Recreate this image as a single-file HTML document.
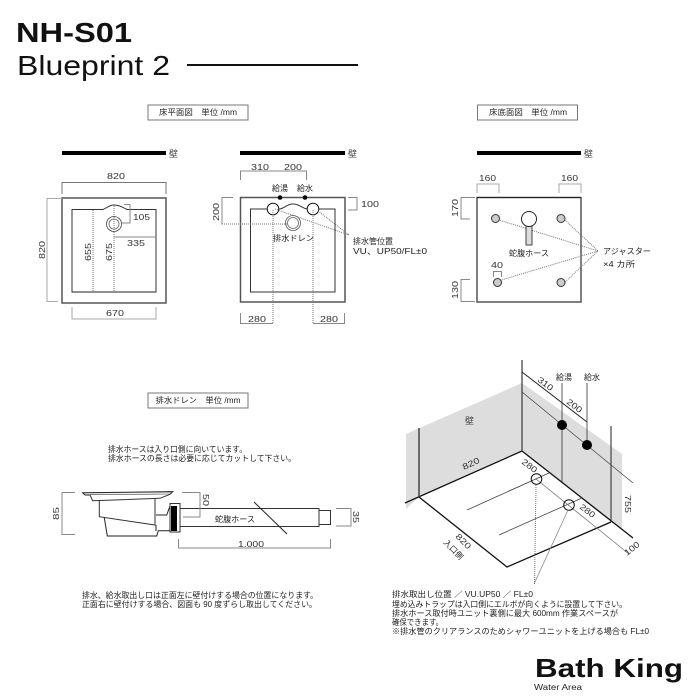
<!DOCTYPE html>
<html><head><meta charset="utf-8"><style>
html,body{margin:0;padding:0;background:#fff;width:700px;height:700px;overflow:hidden}
svg{display:block}
text{font-family:"Liberation Sans","Noto Sans CJK JP",sans-serif;font-size:8px;fill:#222}
.d{font-size:8.5px;fill:#333}
.w{font-size:9px;fill:#444}
.k{fill:none;stroke:#222;stroke-width:1}
.g{fill:none;stroke:#888;stroke-width:1}
.l{fill:none;stroke:#aaa;stroke-width:1}
.o{fill:#fff;stroke:#555;stroke-width:1.5}
.t{fill:none;stroke:#777;stroke-width:1;stroke-dasharray:1 1}
</style></head><body>
<svg width="700" height="700" viewBox="0 0 700 700" xmlns="http://www.w3.org/2000/svg">
<text x="16" y="42" textLength="116" lengthAdjust="spacingAndGlyphs" style="font-size:28px;font-weight:bold;fill:#111">NH-S01</text>
<text x="17" y="75" textLength="153" lengthAdjust="spacingAndGlyphs" style="font-size:28px;fill:#111">Blueprint 2</text>
<rect x="187" y="64" width="171" height="2" fill="#111"/>

<!-- label boxes -->
<rect x="148" y="105" width="100" height="15" fill="#fff" stroke="#777" stroke-width="1"/>
<text x="159" y="115" textLength="78" lengthAdjust="spacingAndGlyphs">床平面図　単位 /mm</text>
<rect x="477.500" y="105" width="100" height="15" fill="#fff" stroke="#777" stroke-width="1"/>
<text x="489" y="115" textLength="78" lengthAdjust="spacingAndGlyphs">床底面図　単位 /mm</text>
<rect x="148" y="393" width="100" height="15" fill="#fff" stroke="#777" stroke-width="1"/>
<text x="155.500" y="403" textLength="85" lengthAdjust="spacingAndGlyphs">排水ドレン　単位 /mm</text>

<!-- walls -->
<rect x="62" y="151" width="104" height="4" fill="#000"/><text class="w" x="169" y="157">壁</text>
<rect x="240" y="151" width="105" height="4" fill="#000"/><text class="w" x="348" y="157">壁</text>
<rect x="477" y="151" width="104" height="4" fill="#000"/><text class="w" x="584" y="157">壁</text>

<!-- Panel 1 -->
<rect x="62" y="198" width="104" height="105" class="o"/>
<path d="M72 292V209.500H103C107 208 109 205 114 205C120 205 124 208 127 209.500H156V292Z" fill="#fff" stroke="#333" stroke-width="1"/>
<path d="M72 292H156" class="k"/>
<path d="M93 210V292M114 206V292" class="t" stroke-width="1"/>
<circle cx="114" cy="224" r="7.500" fill="#fff" stroke="#444" stroke-width=".8"/>
<circle cx="114" cy="224" r="5" fill="#fff" stroke="#666" stroke-width=".8"/>
<path d="M114 217V231" class="t"/>
<path d="M62 194V182.500H166V194" class="k" style="stroke:#777"/>
<path d="M62 198.500H47V301.500H58" class="l"/>
<path d="M124 204.500H130V223H122" class="g"/>
<path d="M114 237H156" class="g"/>
<path d="M72 307V319H156V307" class="l"/>
<text class="d" x="107" y="179" textLength="18" lengthAdjust="spacingAndGlyphs">820</text>
<text class="d" x="133" y="220" textLength="17" lengthAdjust="spacingAndGlyphs">105</text>
<text class="d" x="127" y="246" textLength="18" lengthAdjust="spacingAndGlyphs">335</text>
<text class="d" x="106" y="316" textLength="18" lengthAdjust="spacingAndGlyphs">670</text>
<text class="d" transform="translate(45,259) rotate(-90)" textLength="18" lengthAdjust="spacingAndGlyphs">820</text>
<text class="d" transform="translate(91,261) rotate(-90)" textLength="18" lengthAdjust="spacingAndGlyphs">655</text>
<text class="d" transform="translate(112,261) rotate(-90)" textLength="18" lengthAdjust="spacingAndGlyphs">675</text>

<!-- Panel 2 -->
<rect x="240.500" y="197.500" width="104.500" height="104.500" class="o"/>
<path d="M250.500 292V209H280C285 208 287 204 293 204C299 204 302 208 307 209H335V292Z" fill="#fff" stroke="#333" stroke-width="1"/>
<circle cx="273" cy="209" r="5.800" fill="#fff" stroke="#111" stroke-width="1"/>
<circle cx="313" cy="209" r="5.800" fill="#fff" stroke="#111" stroke-width="1"/>
<circle cx="293" cy="223" r="7.500" fill="#fff" stroke="#555" stroke-width=".8"/>
<circle cx="293" cy="223" r="5.500" fill="#fff" stroke="#666" stroke-width=".8"/>
<circle cx="280" cy="197.500" r="2.300" fill="#000"/>
<circle cx="305" cy="197.500" r="2.300" fill="#000"/>
<path d="M273 210V324M313 210V324" class="t"/>
<path d="M222 224H288" class="t"/>
<path d="M275 209L349 235M318 211L349 235" class="t"/>
<path d="M240.500 180V171H306.500V180" class="g"/>
<path d="M233 197.500H222V224.500" class="g"/>
<path d="M348 197.500H357V210H348" class="g"/>
<path d="M240.500 313V323.500H273" class="g"/>
<path d="M313 323.500H344.500V313" class="g"/>
<text class="d" x="251" y="170" textLength="18" lengthAdjust="spacingAndGlyphs">310</text>
<text class="d" x="284" y="170" textLength="18" lengthAdjust="spacingAndGlyphs">200</text>
<text x="272" y="191" textLength="16" lengthAdjust="spacingAndGlyphs">給湯</text>
<text x="297" y="191" textLength="16" lengthAdjust="spacingAndGlyphs">給水</text>
<text class="d" x="361" y="207" textLength="18" lengthAdjust="spacingAndGlyphs">100</text>
<text class="d" transform="translate(219,221) rotate(-90)" textLength="18" lengthAdjust="spacingAndGlyphs">200</text>
<text x="273" y="241" textLength="41" lengthAdjust="spacingAndGlyphs">排水ドレン</text>
<text x="353" y="244" textLength="40" lengthAdjust="spacingAndGlyphs">排水管位置</text>
<text x="353" y="254" textLength="74" lengthAdjust="spacingAndGlyphs">VU、UP50/FL±0</text>
<text class="d" x="248" y="322" textLength="18" lengthAdjust="spacingAndGlyphs">280</text>
<text class="d" x="320" y="322" textLength="18" lengthAdjust="spacingAndGlyphs">280</text>

<!-- Panel 3 -->
<rect x="477" y="197.500" width="104" height="104.500" class="o"/>
<path d="M477 197.500H581" class="k"/>
<path d="M477 193V184H499V193" class="l"/>
<path d="M559 193V184H581V193" class="l"/>
<path d="M475 197.500H461V219H470" class="g"/>
<path d="M470 279.500H461V301.500H475" class="g"/>
<path d="M493.500 277V271.500H501.500V277" class="g"/>
<path d="M496 219L598 251M565 220L598 251M498 281L598 251M565 282L598 251" class="t"/>
<g fill="#ccc" stroke="#333" stroke-width="1">
<circle cx="495.500" cy="218.500" r="4"/><circle cx="561" cy="218.500" r="4"/><circle cx="497.500" cy="282.500" r="4"/><circle cx="561" cy="282.500" r="4"/>
</g>
<rect x="526" y="226" width="6" height="19" fill="#ddd" stroke="#444" stroke-width="1"/>
<circle cx="529" cy="219" r="7.500" fill="#fff" stroke="#222" stroke-width="1"/>
<text class="d" x="479" y="181" textLength="17" lengthAdjust="spacingAndGlyphs">160</text>
<text class="d" x="561" y="181" textLength="17" lengthAdjust="spacingAndGlyphs">160</text>
<text class="d" x="491" y="268" textLength="12" lengthAdjust="spacingAndGlyphs">40</text>
<text class="d" transform="translate(458,217) rotate(-90)" textLength="18" lengthAdjust="spacingAndGlyphs">170</text>
<text class="d" transform="translate(458,299) rotate(-90)" textLength="18" lengthAdjust="spacingAndGlyphs">130</text>
<text x="509" y="256" textLength="40" lengthAdjust="spacingAndGlyphs">蛇腹ホース</text>
<text x="603" y="254" textLength="48" lengthAdjust="spacingAndGlyphs">アジャスター</text>
<text x="603" y="267" textLength="32" lengthAdjust="spacingAndGlyphs">×4 カ所</text>

<!-- Drain -->
<text x="108" y="452" textLength="139" lengthAdjust="spacingAndGlyphs">排水ホースは入り口側に向いています。</text>
<text x="108" y="461" textLength="188" lengthAdjust="spacingAndGlyphs">排水ホースの長さは必要に応じてカットして下さい。</text>
<path d="M75 492.500H62V534.500H75" class="g"/>
<path d="M82.700 492.700L172.700 491.700L170 494.300L85 495Z" fill="#eee" stroke="#222" stroke-width="1"/>
<path d="M90 495L92.700 500.700L160 498.300L170 494.300" fill="#fff" stroke="#333" stroke-width="1"/>
<path d="M99.300 500.700V516.700L155 525V499" fill="none" stroke="#333" stroke-width="1"/>
<path d="M104.300 517.700L107.300 536H156.700L158.300 530.700H171" fill="none" stroke="#222" stroke-width="1"/>
<path d="M156 515H166.700L171 503.300M156 525V531" fill="none" stroke="#222" stroke-width="1"/>
<rect x="170" y="503.500" width="10" height="28.500" fill="#fff" stroke="#333" stroke-width="1"/>
<rect x="171" y="506" width="6" height="25" fill="#000"/>
<rect x="180" y="508.500" width="139" height="18" fill="#fff" stroke="#333" stroke-width="1"/>
<rect x="319" y="510.500" width="11.500" height="14" fill="#fff" stroke="#333" stroke-width="1"/>
<path d="M254 502L287 534" class="k"/>
<path d="M182 492.500H200V517H183" class="g"/>
<path d="M336 508.500H351V526H336" class="g"/>
<path d="M178.500 539V548H330.500V539" class="g"/>
<text class="d" transform="translate(59,520) rotate(-90)" textLength="13" lengthAdjust="spacingAndGlyphs">85</text>
<text class="d" transform="translate(203,494) rotate(90)" textLength="12" lengthAdjust="spacingAndGlyphs">50</text>
<text class="d" transform="translate(353,511) rotate(90)" textLength="12" lengthAdjust="spacingAndGlyphs">35</text>
<text x="215" y="522" textLength="40" lengthAdjust="spacingAndGlyphs">蛇腹ホース</text>
<text class="d" x="238" y="547" textLength="26" lengthAdjust="spacingAndGlyphs">1.000</text>
<text x="82" y="598" textLength="236" lengthAdjust="spacingAndGlyphs">排水、給水取出し口は正面左に壁付けする場合の位置になります。</text>
<text x="82" y="607" textLength="235" lengthAdjust="spacingAndGlyphs">正面右に壁付けする場合、図面も 90 度ずらし取出してください。</text>

<!-- Isometric -->
<path d="M522 383L406 434V509L419 497L522 451Z" fill="#ddd"/>
<path d="M522 383L622 454V530L611 522L522 451Z" fill="#ddd"/>
<path d="M405 503L522 451L633 538" fill="none" stroke="#111" stroke-width="1.300"/>
<path d="M419 497L507 567L611 522" fill="none" stroke="#111" stroke-width="1.300"/>
<path d="M522 360V451" fill="none" stroke="#444" stroke-width="1.300"/>
<path d="M419 428V497" fill="none" stroke="#444" stroke-width="1.500"/>
<path d="M611 426V522" fill="none" stroke="#222" stroke-width="1"/>
<path d="M522 372L587 422" class="k"/>
<path d="M522 392L633 483" fill="none" stroke="#444" stroke-width=".8"/>
<path d="M562 383V482M587 383V440" fill="none" stroke="#333" stroke-width=".8"/>
<circle cx="562" cy="425" r="5" fill="#000"/>
<circle cx="587" cy="445" r="5" fill="#000"/>
<path d="M467 510L549 473M499 535L582 498" fill="none" stroke="#444" stroke-width=".8"/>
<path d="M536 479L629 554" fill="none" stroke="#777" stroke-width=".8"/>
<circle cx="536.500" cy="479" r="5.300" fill="none" stroke="#111" stroke-width="1"/>
<circle cx="569" cy="505" r="5.300" fill="none" stroke="#111" stroke-width="1"/>
<path d="M536 485L534.500 584" class="t"/>
<path d="M568 510L534 584" fill="none" stroke="#888" stroke-width=".8"/>
<text class="w" x="465" y="424">壁</text>
<text x="556" y="380" textLength="16" lengthAdjust="spacingAndGlyphs">給湯</text>
<text x="584" y="380" textLength="16" lengthAdjust="spacingAndGlyphs">給水</text>
<text class="d" transform="translate(537,381) rotate(37)" textLength="17" lengthAdjust="spacingAndGlyphs">310</text>
<text class="d" transform="translate(566,403) rotate(37)" textLength="17" lengthAdjust="spacingAndGlyphs">200</text>
<text class="d" transform="translate(464,470) rotate(-25)" textLength="18" lengthAdjust="spacingAndGlyphs">820</text>
<text class="d" transform="translate(521,463) rotate(37)" textLength="17" lengthAdjust="spacingAndGlyphs">280</text>
<text class="d" transform="translate(579,508) rotate(37)" textLength="17" lengthAdjust="spacingAndGlyphs">280</text>
<text class="d" transform="translate(627,556) rotate(-38)" textLength="17" lengthAdjust="spacingAndGlyphs">100</text>
<text class="d" transform="translate(625,495) rotate(90)" textLength="18" lengthAdjust="spacingAndGlyphs">755</text>
<text class="d" transform="translate(455,537) rotate(45)" textLength="18" lengthAdjust="spacingAndGlyphs">820</text>
<text transform="translate(443,543) rotate(45)" textLength="24" lengthAdjust="spacingAndGlyphs">入口側</text>
<text x="392" y="597" textLength="141" lengthAdjust="spacingAndGlyphs">排水取出し位置 ／ VU.UP50 ／ FL±0</text>
<text x="392" y="607" textLength="235" lengthAdjust="spacingAndGlyphs">埋め込みトラップは入口側にエルボが向くように設置して下さい。</text>
<text x="392" y="616" textLength="226" lengthAdjust="spacingAndGlyphs">排水ホース取付時ユニット裏側に最大 600mm 作業スペースが</text>
<text x="392" y="625" textLength="51" lengthAdjust="spacingAndGlyphs">確保できます。</text>
<text x="392" y="634" textLength="257" lengthAdjust="spacingAndGlyphs">※排水管のクリアランスのためシャワーユニットを上げる場合も FL±0</text>

<text x="535" y="677" textLength="148" lengthAdjust="spacingAndGlyphs" style="font-size:26px;font-weight:bold;fill:#111">Bath King</text>
<text x="534" y="690" textLength="48" lengthAdjust="spacingAndGlyphs" style="font-size:8px">Water Area</text>
</svg>
</body></html>
